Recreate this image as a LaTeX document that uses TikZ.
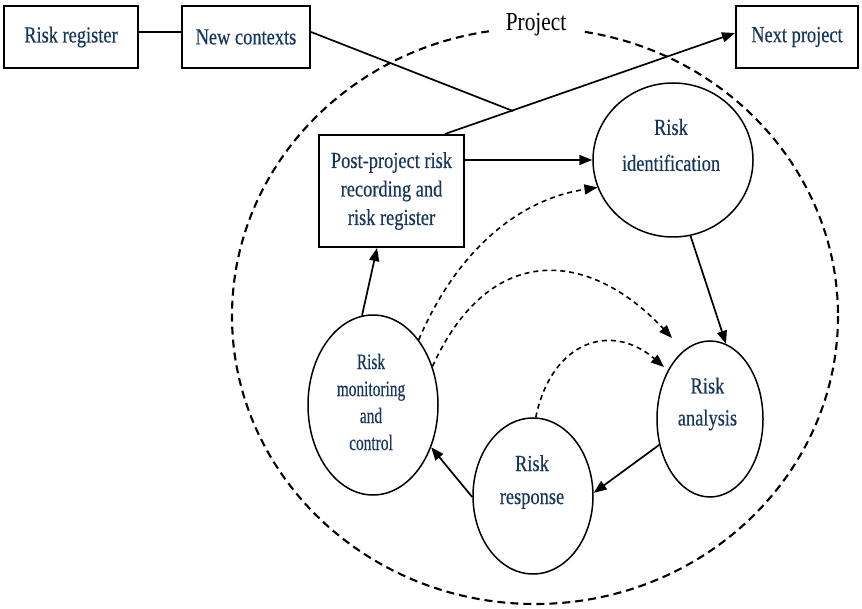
\documentclass[tikz,border=0pt]{standalone}
\usepackage{fontspec}
\usetikzlibrary{arrows.meta,shapes.geometric,calc}
\newfontfamily\lblfont[FakeStretch=0.8,FakeBold=0.3]{Liberation Serif}
\newfontfamily\rmfont[FakeStretch=0.7,FakeBold=0.3]{Liberation Serif}
\newfontfamily\projfont[FakeStretch=0.82]{Liberation Serif}
\definecolor{txtblue}{RGB}{23,54,93}
\begin{document}
\begin{tikzpicture}[x=1pt,y=-1pt,
  box/.style={draw, line width=2.1pt, inner sep=0pt, font=\lblfont\fontsize{23}{28.5}\selectfont, text=txtblue, align=center},
  oval/.style={draw, ellipse, line width=1.5pt, inner sep=0pt},
  lbl/.style={text=txtblue, align=center, inner sep=0pt},
  arr/.style={line width=1.7pt, -{Triangle[length=13pt,width=10pt]}},
  darr/.style={line width=1.6pt, dash pattern=on 5pt off 4pt, -{Triangle[length=13pt,width=10pt]}},
  ln/.style={line width=1.7pt}]
\useasboundingbox (0,0) rectangle (862,609);
\fill[white] (0,0) rectangle (862,609);

% project boundary
\draw[line width=2.1pt, dash pattern=on 8pt off 5pt] (535,316) ellipse [x radius=303, y radius=288];
\node[fill=white, inner sep=0pt, minimum width=95pt, minimum height=22pt,
      font=\projfont\fontsize{26}{30}\selectfont] (proj) at (536,25) {Project};

% boxes
\node[box, minimum width=134pt, minimum height=62pt] (reg) at (71,37) {Risk register};
\node[box, minimum width=128pt, minimum height=62pt] (nc) at (246,37) {New contexts};
\node[box, minimum width=122pt, minimum height=62pt] (np) at (797,37) {Next project};
\node[box, minimum width=145pt, minimum height=112pt] (pp) at (391.5,191) {Post-project risk\\recording and\\risk register};

% ellipses
\node[oval, minimum width=160pt, minimum height=154pt] (ri) at (673,160) {};
\node[oval, minimum width=106pt, minimum height=156pt] (ra) at (710,419) {};
\node[oval, minimum width=130pt, minimum height=180pt] (rm) at (373,405) {};
\node[oval, minimum width=120pt, minimum height=156pt] (resp) at (533,496) {};

% ellipse texts
\node[lbl, font=\lblfont\fontsize{23}{36}\selectfont] (riT) at (671,145) {Risk\\identification};
\node[lbl, font=\lblfont\fontsize{23}{32}\selectfont] (raT) at (707.5,404) {Risk\\analysis};
\node[lbl, font=\lblfont\fontsize{23}{33}\selectfont] (respT) at (532,482) {Risk\\response};
\node[lbl, font=\rmfont\fontsize{22}{27}\selectfont] (rmT) at (371,402) {Risk\\monitoring\\and\\control};

% solid connectors
\coordinate (J) at (513,111);
\draw[ln] ([yshift=5pt]reg.east) -- ([yshift=5pt]nc.west);
\draw[ln] ([yshift=5pt]nc.east) -- (J);
\draw[arr] ([xshift=53.5pt]pp.north) -- ([yshift=4pt]np.west);
\draw[arr] (pp.east |- ri.west) -- (ri.west);
\draw[arr] (rm.97) -- ([xshift=-14.5pt]pp.south);
\draw[arr] (ri.-77) -- (ra.78);
\draw[arr] (ra.207) -- (resp.3);
\draw[arr] (resp.181) -- (rm.-36);

% dashed connectors
\coordinate (d2end) at (672,338);
\coordinate (d3end) at (664,367);
\draw[darr] (rm.55) .. controls (455,255) and (515,200) .. (ri.200);
\draw[darr] (rm.33) .. controls (490,240) and (590,250) .. (d2end);
\draw[darr] (resp.88) .. controls (552,340) and (612,322) .. (d3end);
\end{tikzpicture}
\end{document}
